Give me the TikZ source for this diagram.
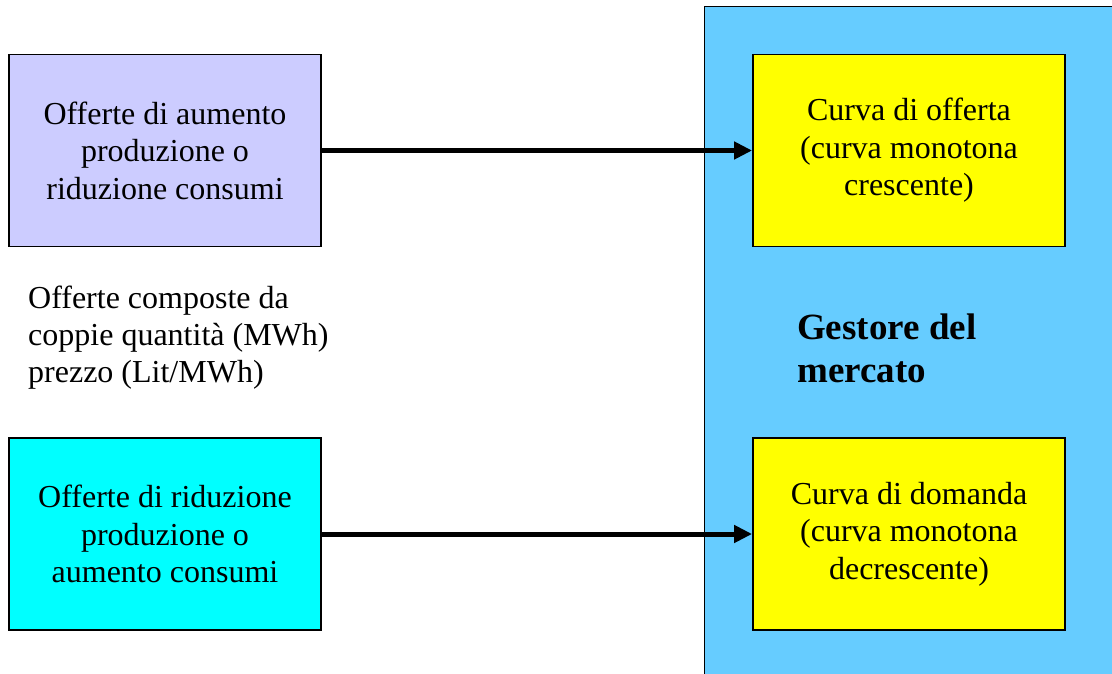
\documentclass[tikz,border=0pt]{standalone}
\usepackage{fontspec}
\setmainfont{Liberation Serif}
\usetikzlibrary{arrows.meta}
\definecolor{lavbox}{HTML}{CCCCFF}
\definecolor{cyanbox}{HTML}{00FFFF}
\definecolor{gestblue}{HTML}{66CCFF}
\definecolor{yelbox}{HTML}{FFFF00}
\begin{document}
\begin{tikzpicture}[x=1pt,y=-1pt,
  boxstyle/.style={draw=black,line width=1.8pt,minimum width=312pt,minimum height=192pt,inner sep=0pt,align=center,font=\fontsize{32}{37.5}\selectfont},
  freetext/.style={inner sep=0pt,align=left,font=\fontsize{32}{37}\selectfont},
  flow/.style={line width=5pt,-{Triangle[length=18pt,width=17pt]}}]
\useasboundingbox (0,0) rectangle (1112,674);
\fill[white] (0,0) rectangle (1112,674);
\filldraw[fill=gestblue,draw=black,line width=1pt] (704,7) rectangle (1120,690);
\node[boxstyle,fill=lavbox] (b1) at (165,150.5) {Offerte di aumento\\produzione o\\riduzione consumi};
\node[boxstyle,fill=cyanbox] (b2) at (165,534) {Offerte di riduzione\\produzione o\\aumento consumi};
\node[boxstyle,fill=yelbox] (y1) at (909,150.5) {Curva di offerta\\(curva monotona\\crescente)};
\node[boxstyle,fill=yelbox] (y2) at (909,534) {Curva di domanda\\(curva monotona\\decrescente)};
\node[freetext,anchor=base west] (note) at (28,382) {Offerte composte da\\coppie quantità (MWh)\\prezzo (Lit/MWh)};
\node[inner sep=0pt,align=left,font=\fontsize{37}{43}\selectfont\bfseries,anchor=base west] (gest) at (797,382) {Gestore del\\mercato};
\draw[flow] (b1.east) -- (y1.west);
\draw[flow] (b2.east) -- (y2.west);
\end{tikzpicture}
\end{document}
